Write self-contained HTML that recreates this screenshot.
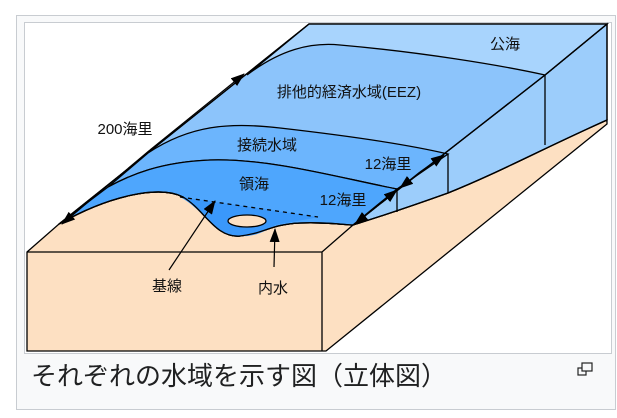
<!DOCTYPE html>
<html><head><meta charset="utf-8"><style>
body{margin:0;background:#fff;width:617px;height:418px;overflow:hidden;font-family:"Liberation Sans","Noto Sans CJK JP",sans-serif}
.outer{position:absolute;left:16px;top:15px;width:598px;height:393px;border:1px solid #c8ccd1;background:#f8f9fa}
.inner{position:absolute;left:24px;top:22px;width:586px;height:330px;border:1px solid #c8ccd1;background:#fff}
.cap{position:absolute;left:31px;top:356px;font-size:26px;color:#202122;font-family:"Liberation Sans","Noto Sans CJK JP",sans-serif;white-space:nowrap}
</style></head><body>
<div class="outer"></div><div class="inner"></div>
<svg style="position:absolute;left:0;top:0" width="617" height="418" viewBox="0 0 617 418">
<defs><marker id="b" markerWidth="14" markerHeight="10" refX="13" refY="5" orient="auto" markerUnits="userSpaceOnUse"><path d="M0,0 L14,5 L0,10 Z" fill="#000"/></marker></defs>
<g stroke="#000" stroke-width="1.3">
<path d="M27,252 L59,224 C110,195 160,185 183,197 C205,210 215,238 240,236 C262,234 272,224 300,223 C330,222 345,225 353,225 C375,218 395,212 448,193 C500,172 540,150 607,120 L607,124 L326,351 L27,351 Z" fill="#fde0c2"/>
<path d="M27,252 L322,252 L353,225 M322,252 L322,351" fill="none"/>
<path d="M545,75 L607,24 L607,120 C540,150 500,172 448,193 C395,212 375,218 353,225 Z" fill="#9ccdfb"/>
<path d="M59,224 L309,24 L607,24 L545,75 L353,225 C345,225 330,222 300,223 C272,224 262,234 240,236 C215,238 205,210 183,197 C160,185 110,195 59,224 Z" fill="#8cc4fb"/>
<path d="M247,75 C280,50 310,42 340,45 C420,52 500,65 545,75 L607,24 L309,24 Z" fill="#a8d4fd"/>
<path d="M148,153 C190,125 230,122 280,128 C350,136 410,145 448,154 L397,189 C340,178 270,158 210,160 C160,162 130,175 108,187 Z" fill="#6cb5fd"/>
<path d="M108,187 C130,175 160,162 210,160 C270,158 340,178 397,189 L353,225 C345,225 330,222 300,223 C272,224 262,234 240,236 C215,238 205,210 183,197 C160,185 110,195 59,224 Z" fill="#4ea6fd"/>
<path d="M180,197 L318,217 C305,220 290,222 275,225 C262,234 250,237 240,236 C215,238 205,210 180,197 Z" fill="#3a98fb" stroke="none"/>
<path d="M180,197 L318,217" stroke-dasharray="4,4" fill="none"/>
<ellipse cx="247" cy="221" rx="19" ry="6" fill="#fde0c2"/>
<path d="M59,224 L309,24 L607,24 L607,120 M545,75 L607,24 M545,75 L545,145 M545,75 L353,225 M448,154 L448,193 M397,189 L397,212" fill="none"/>
<path d="M59,224 C110,195 160,185 183,197 C205,210 215,238 240,236 C262,234 272,224 300,223 C330,222 345,225 353,225 C375,218 395,212 448,193 C500,172 540,150 607,120" fill="none"/>
</g>
<g stroke="#000" stroke-width="1.2" fill="none">
<line x1="150" y1="150" x2="62" y2="224" marker-end="url(#b)"/>
<line x1="150" y1="150" x2="244" y2="74" marker-end="url(#b)"/>
<line x1="375" y1="208" x2="355" y2="224" marker-end="url(#b)"/>
<line x1="375" y1="208" x2="397" y2="190" marker-end="url(#b)"/>
<line x1="420" y1="172" x2="400" y2="188" marker-end="url(#b)"/>
<line x1="420" y1="172" x2="444" y2="155" marker-end="url(#b)"/>
<line x1="169" y1="270" x2="215" y2="201" marker-end="url(#b)"/>
<line x1="274" y1="267" x2="275" y2="229" marker-end="url(#b)"/>
</g>
<g font-size="15" fill="#111" text-anchor="middle" font-family="Liberation Sans,Noto Sans CJK JP,sans-serif">
<text x="505" y="49">公海</text>
<text x="349" y="97">排他的経済水域(EEZ)</text>
<text x="125" y="134">200海里</text>
<text x="267" y="150">接続水域</text>
<text x="388" y="169">12海里</text>
<text x="254" y="189">領海</text>
<text x="343" y="205">12海里</text>
<text x="167" y="291">基線</text>
<text x="273" y="293">内水</text>
</g>
<g fill="none" stroke="#222" stroke-width="1.2"><rect x="578" y="368" width="8" height="7"/><rect x="582" y="363" width="10" height="8" fill="#f8f9fa"/></g>
</svg>
<div class="cap">それぞれの水域を示す図（立体図）</div>
</body></html>
